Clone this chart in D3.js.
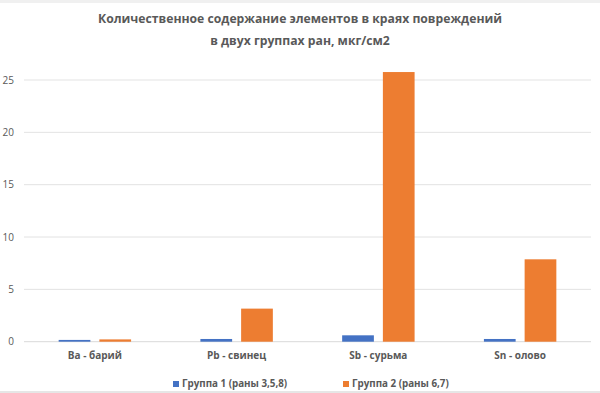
<!DOCTYPE html>
<html><head><meta charset="utf-8">
<script src="https://cdn.jsdelivr.net/npm/d3@7"></script>
<style>body{margin:0;background:#fff}svg{display:block}</style>
</head><body>
<svg id="c" width="600" height="393"></svg>
<script>
const categories = ["Ba - барий", "Pb - свинец", "Sb - сурьма", "Sn - олово"];
const seriesNames = ["Группа 1 (раны 3,5,8)", "Группа 2 (раны 6,7)"];
const group1 = [0.17, 0.26, 0.61, 0.26];
const group2 = [0.22, 3.16, 25.76, 7.87];
const yTicks = [0, 5, 10, 15, 20, 25];
const colors = ["#4472C4", "#ED7D31"];
const titleLines = ["Количественное содержание элементов в краях повреждений", "в двух группах ран, мкг/см2"];

(function(){
const svg = d3.select("#c");
const W = 600, H = 393;
const font = "'Open Sans', 'Noto Sans', sans-serif";

svg.append("rect").attr("x",0).attr("y",0).attr("width",W).attr("height",H).attr("fill","#fff");
svg.append("rect").attr("x",0).attr("y",0).attr("width",W).attr("height",3).attr("fill","#f0f0f0");
svg.append("rect").attr("x",0).attr("y",391).attr("width",W).attr("height",2).attr("fill","#e6e6e6");

const pLeft = 24, pRight = 591, pTop = 80, pBottom = 341.7;
const y = d3.scaleLinear().domain([0, 25]).range([pBottom, pTop]);
const x0 = d3.scaleBand().domain(categories).range([pLeft, pRight]).paddingInner(0.489).paddingOuter(0.2445);
const x1 = d3.scaleBand().domain(seriesNames).range([0, x0.bandwidth()]).paddingInner(0.221);

svg.append("g").selectAll("line").data(yTicks).join("line")
  .attr("x1", pLeft).attr("x2", pRight)
  .attr("y1", d => y(d)).attr("y2", d => y(d))
  .attr("stroke", d => d === 0 ? "#d9d9d9" : "#e3e3e3").attr("stroke-width", 1);

const yAxis = d3.axisLeft(y).tickValues(yTicks).tickSize(0).tickPadding(0);
const ya = svg.append("g").attr("transform", `translate(14,0)`).call(yAxis);
ya.select(".domain").remove();
ya.selectAll("text").attr("fill", "#595959").style("font-family", font).style("font-size", "10px");

const data = categories.map((c, i) => ({cat: c, vals: [group1[i], group2[i]]}));
const g = svg.append("g").selectAll("g").data(data).join("g")
  .attr("transform", d => `translate(${x0(d.cat)},0)`);
g.selectAll("rect").data(d => d.vals.map((v, j) => ({v, s: seriesNames[j], j}))).join("rect")
  .attr("x", d => x1(d.s)).attr("width", x1.bandwidth())
  .attr("y", d => y(d.v)).attr("height", d => y(0) - y(d.v))
  .attr("fill", d => colors[d.j]);

const xAxis = d3.axisBottom(x0).tickSize(0).tickPadding(0);
const xa = svg.append("g").attr("transform", `translate(0,352)`).call(xAxis);
xa.select(".domain").remove();
xa.selectAll("text").attr("fill", "#595959").style("font-family", font).style("font-size", "10px").style("font-weight", "bold");

svg.append("g").selectAll("text").data(titleLines).join("text")
  .attr("x", 300).attr("y", (d, i) => 23 + i * 21.5)
  .attr("text-anchor", "middle").attr("fill", "#595959")
  .style("font-family", font).style("font-size", "12.2px").style("font-weight", "bold")
  .text(d => d);

const legX = [173, 343];
const lg = svg.append("g").selectAll("g").data(seriesNames).join("g")
  .attr("transform", (d, i) => `translate(${legX[i]},384)`);
lg.append("rect").attr("x", 0).attr("y", -3).attr("width", 6).attr("height", 6).attr("fill", (d, i) => colors[i]);
lg.append("text").attr("x", 9).attr("y", 0).attr("dy", "0.35em")
  .attr("fill", "#595959").style("font-family", font).style("font-size", "9.8px").style("font-weight", "bold")
  .text(d => d);
})();
</script>
</body></html>
